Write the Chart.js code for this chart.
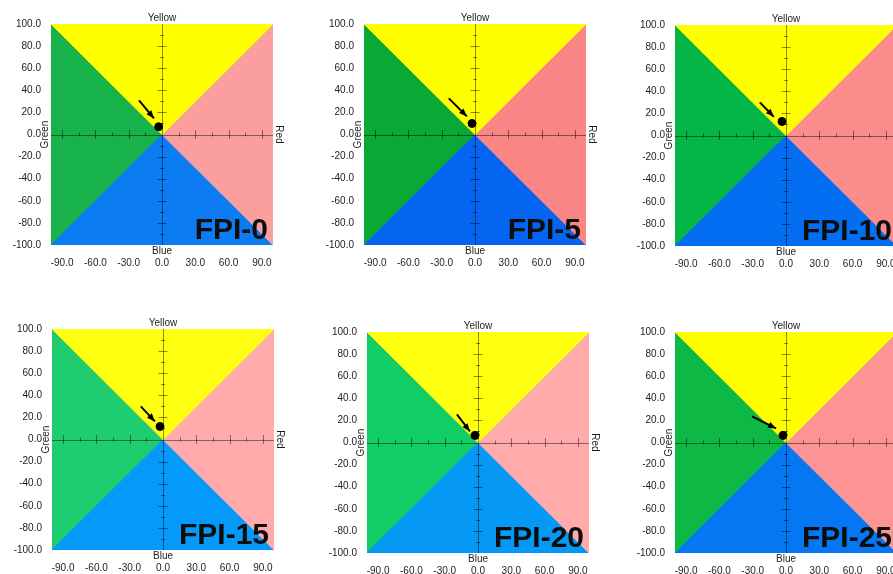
<!DOCTYPE html>
<html>
<head>
<meta charset="utf-8">
<script src="https://cdn.jsdelivr.net/npm/chart.js@4.4.1/dist/chart.umd.min.js"></script>
<style>
  html, body { margin: 0; padding: 0; background: #fff; }
  #sheet { position: relative; width: 893px; height: 574px; overflow: hidden; background: #fff; }
  .panel { position: absolute; width: 300px; height: 290px; }
</style>
</head>
<body>
<div id="sheet"></div>
<script>
// --- Data ---
const panelNames = ['FPI-0', 'FPI-5', 'FPI-10', 'FPI-15', 'FPI-20', 'FPI-25'];

// measured sample (a*, b*) for each panel
const sampleA = [-3, -2.7, -3.6, -2.7, -2.7, -2.7];
const sampleB = [7, 10, 12.7, 11.8, 6.4, 6.4];

// pointer arrows (tail -> head) in a*/b* units
const arrowFromA = [-20.7, -23.6, -23.6, -20, -19, -30.6];
const arrowFromB = [30.8, 32.7, 30, 30, 25.5, 23.6];
const arrowToA = [-7.2, -7.3, -11, -7.3, -7.3, -9];
const arrowToB = [14.5, 16.4, 17, 16.4, 10, 12.7];

// hue sectors of the a*/b* plane
const yellowSector = [[-100, 100], [100, 100], [0, 0]];
const redSector = [[100, 100], [100, -100], [0, 0]];
const blueSector = [[-100, -100], [100, -100], [0, 0]];
const greenSector = [[-100, 100], [0, 0], [-100, -100]];

const xTickValues = [-90, -60, -30, 0, 30, 60, 90];
const yTickValues = [100, 80, 60, 40, 20, 0, -20, -40, -60, -80, -100];
const crossTicksX = [-90, -75, -60, -45, -30, -15, 15, 30, 45, 60, 75, 90];
const crossTicksY = [-90, -80, -70, -60, -50, -40, -30, -20, -10, 10, 20, 30, 40, 50, 60, 70, 80, 90];

// --- Look ---
const palettes = [
  { green: '#17b24a', yellow: '#ffff00', red: '#fa9e9e', blue: '#0b7cf2' },
  { green: '#0aa834', yellow: '#ffff00', red: '#fa8585', blue: '#0565f0' },
  { green: '#05b545', yellow: '#ffff00', red: '#fa8c8c', blue: '#036ef2' },
  { green: '#1fcc6e', yellow: '#ffff10', red: '#ffabab', blue: '#0599fa' },
  { green: '#12cc66', yellow: '#ffff10', red: '#ffabab', blue: '#0598f5' },
  { green: '#0eb845', yellow: '#ffff00', red: '#fc9494', blue: '#0577f2' }
];
// top-left corner of each panel's canvas
const panelSpots = [[0, 0], [313, 0], [624, 1], [1, 305], [316, 308], [624, 308]];

const FONT = 'Liberation Sans, Arial, sans-serif';
const textColor = '#1c1c1c';

const toPoints = list => list.map(p => ({ x: p[0], y: p[1] }));

function sector(label, pts, color) {
  return {
    type: 'line',
    label: label,
    data: toPoints(pts.concat([pts[0]])),
    borderColor: color,
    backgroundColor: color,
    borderWidth: 1,
    pointRadius: 0,
    tension: 0,
    fill: 'shape'
  };
}

// cross axes, arrow head and captions
const overlay = {
  id: 'overlay',
  afterDatasetDraw(chart, args) {
    const { ctx, chartArea: a, scales: { x, y } } = chart;
    const i = chart.options.plugins.overlay.panel;
    if (args.index === 2) {
      const x0 = x.getPixelForValue(0), y0 = y.getPixelForValue(0);
      ctx.save();
      ctx.strokeStyle = 'rgba(0,0,0,0.45)';
      ctx.lineWidth = 1;
      ctx.beginPath();
      ctx.moveTo(a.left, Math.round(y0) + 0.5); ctx.lineTo(a.right, Math.round(y0) + 0.5);
      ctx.moveTo(Math.round(x0) + 0.5, a.top); ctx.lineTo(Math.round(x0) + 0.5, a.bottom);
      crossTicksX.forEach(v => {
        const px = Math.round(x.getPixelForValue(v)) + 0.5;
        const h = v % 30 === 0 ? 4.5 : 2;
        ctx.moveTo(px, y0 - h); ctx.lineTo(px, y0 + h);
      });
      crossTicksY.forEach(v => {
        const py = Math.round(y.getPixelForValue(v)) + 0.5;
        const h = v % 20 === 0 ? 4.5 : 2;
        ctx.moveTo(x0 - h, py); ctx.lineTo(x0 + h, py);
      });
      ctx.stroke();
      ctx.restore();
    }
    if (args.index === 1) {
      const tx = x.getPixelForValue(arrowToA[i]), ty = y.getPixelForValue(arrowToB[i]);
      const fx = x.getPixelForValue(arrowFromA[i]), fy = y.getPixelForValue(arrowFromB[i]);
      const ang = Math.atan2(ty - fy, tx - fx);
      const len = 8, half = 3.2;
      ctx.save();
      ctx.translate(tx, ty);
      ctx.rotate(ang);
      ctx.fillStyle = '#000';
      ctx.beginPath();
      ctx.moveTo(0, 0);
      ctx.lineTo(-len, -half);
      ctx.lineTo(-len, half);
      ctx.closePath();
      ctx.fill();
      ctx.restore();
    }
  },
  afterDraw(chart) {
    const { ctx, chartArea: a, scales: { x, y } } = chart;
    const i = chart.options.plugins.overlay.panel;
    const x0 = x.getPixelForValue(0), y0 = y.getPixelForValue(0);
    ctx.save();
    ctx.fillStyle = textColor;
    ctx.font = '10px ' + FONT;
    ctx.textAlign = 'center';
    ctx.textBaseline = 'middle';
    ctx.fillText('Yellow', x0, a.top - 6);
    ctx.fillText('Blue', x0, a.bottom + 6);
    ctx.save();
    ctx.translate(a.left - 6, y0);
    ctx.rotate(-Math.PI / 2);
    ctx.fillText('Green', 0, 0);
    ctx.restore();
    ctx.save();
    ctx.translate(a.right + 6, y0);
    ctx.rotate(Math.PI / 2);
    ctx.fillText('Red', 0, 0);
    ctx.restore();

    ctx.fillStyle = '#0d0d0d';
    ctx.font = 'bold 30px ' + FONT;
    ctx.textAlign = 'right';
    ctx.textBaseline = 'alphabetic';
    ctx.fillText(panelNames[i], a.right - 5, a.bottom - 6);
    ctx.restore();
  }
};

function axisTicks(pad) {
  return {
    padding: pad,
    color: textColor,
    autoSkip: false,
    maxRotation: 0,
    font: { family: FONT, size: 10 },
    callback: v => Number(v).toFixed(1)
  };
}

function buildPanel(i) {
  const sheet = document.getElementById('sheet');
  const holder = document.createElement('div');
  holder.className = 'panel';
  holder.style.left = panelSpots[i][0] + 'px';
  holder.style.top = panelSpots[i][1] + 'px';
  const canvas = document.createElement('canvas');
  canvas.width = 300;
  canvas.height = 290;
  holder.appendChild(canvas);
  sheet.appendChild(holder);

  const pal = palettes[i];
  return new Chart(canvas.getContext('2d'), {
    type: 'scatter',
    data: {
      datasets: [
        {
          label: 'Sample',
          data: [{ x: sampleA[i], y: sampleB[i] }],
          backgroundColor: '#000',
          borderColor: '#000',
          pointRadius: 4,
          pointHoverRadius: 4
        },
        {
          type: 'line',
          label: 'Pointer',
          data: [{ x: arrowFromA[i], y: arrowFromB[i] }, { x: arrowToA[i], y: arrowToB[i] }],
          borderColor: '#000',
          borderWidth: 2,
          pointRadius: 0,
          fill: false
        },
        sector('Yellow', yellowSector, pal.yellow),
        sector('Red', redSector, pal.red),
        sector('Blue', blueSector, pal.blue),
        sector('Green', greenSector, pal.green)
      ]
    },
    options: {
      responsive: false,
      animation: false,
      events: [],
      layout: { padding: { top: 24, right: 27, left: 0, bottom: 0 } },
      plugins: {
        legend: { display: false },
        tooltip: { enabled: false },
        overlay: { panel: i }
      },
      scales: {
        x: {
          type: 'linear',
          min: -100,
          max: 100,
          grid: { display: false, drawTicks: false },
          border: { display: false },
          afterBuildTicks: s => { s.ticks = xTickValues.map(v => ({ value: v })); },
          afterFit: s => { s.height = 45; },
          ticks: axisTicks(12)
        },
        y: {
          type: 'linear',
          min: -100,
          max: 100,
          grid: { display: false, drawTicks: false },
          border: { display: false },
          afterBuildTicks: s => { s.ticks = yTickValues.map(v => ({ value: v })); },
          afterFit: s => { s.width = 51; },
          ticks: axisTicks(10)
        }
      }
    },
    plugins: [overlay]
  });
}

panelNames.forEach((name, i) => buildPanel(i));
</script>
</body>
</html>
